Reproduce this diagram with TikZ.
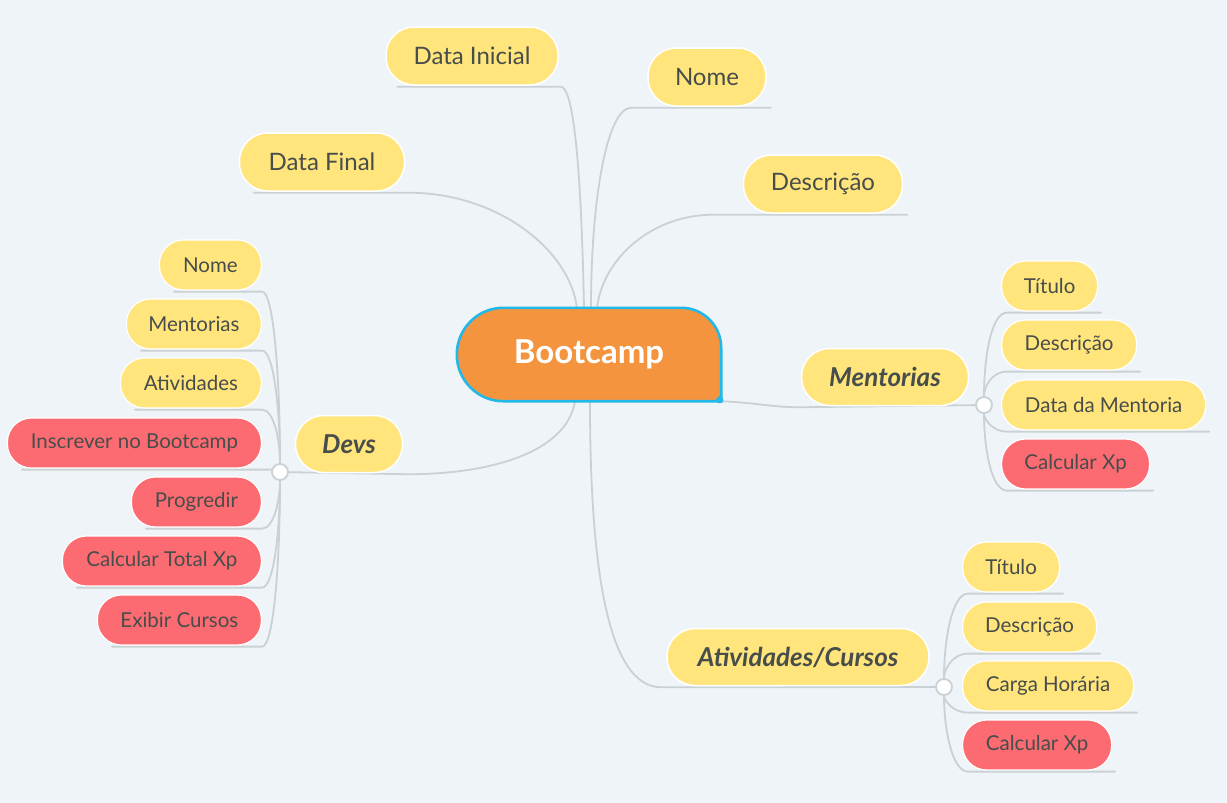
\documentclass[tikz,border=0pt]{standalone}
\usepackage{fontspec}
\setmainfont{Lato}
\usetikzlibrary{calc}
\definecolor{bgc}{HTML}{EFF4F8}
\definecolor{yel}{HTML}{FFE57C}
\definecolor{redc}{HTML}{FC6B71}
\definecolor{orc}{HTML}{F5943F}
\definecolor{cyc}{HTML}{22B8E8}
\definecolor{linec}{HTML}{C9D1D5}
\definecolor{txt}{HTML}{474D4B}
\pgfdeclarelayer{back}
\pgfdeclarelayer{bg}
\pgfsetlayers{back,bg,main}
\begin{document}
\begin{tikzpicture}[x=1pt,y=-1pt,
  pillA/.style={rectangle,rounded corners=28pt,fill=yel,draw=white,line width=1.5pt,
     minimum height=58pt,inner sep=0pt,text=txt,font=\fontsize{24}{28}\selectfont},
  pillB/.style={pillA,font=\fontsize{26}{30}\selectfont\bfseries\itshape,minimum height=57pt},
  kid/.style={rectangle,rounded corners=24pt,fill=yel,draw=white,line width=1.2pt,
     minimum height=50pt,inner sep=0pt,text=txt,font=\fontsize{20.5}{24}\selectfont},
  kidr/.style={kid,fill=redc},
  conn/.style={draw=linec,line width=1.8pt,line cap=round},
  hub/.style={circle,minimum size=16pt,inner sep=0pt,fill=white,draw=linec,line width=1.8pt}]
\useasboundingbox (0,0) rectangle (1227,803);
\begin{pgfonlayer}{back}
\fill[bgc] (0,0) rectangle (1227,803);
\end{pgfonlayer}

% central node
\node[minimum width=264pt,minimum height=93pt,inner sep=0pt] (boot) at (589,354.5) {};
\draw[fill=orc,draw=cyc,line width=2.6pt]
  (boot.south east) -- ($(boot.south west)+(46.5,0)$)
  .. controls ($(boot.south west)+(20.8,0)$) and ($(boot.west)+(0,25.7)$) .. (boot.west)
  .. controls ($(boot.west)+(0,-25.7)$) and ($(boot.north west)+(20.8,0)$) .. ($(boot.north west)+(46.5,0)$)
  -- ($(boot.north east)+(-40,0)$)
  .. controls ($(boot.north east)+(-17.9,0)$) and ($(boot.north east)+(0,17.9)$) .. ($(boot.north east)+(0,40)$)
  -- cycle;
\fill[cyc] ($(boot.south east)+(-1.5,-1.5)$) circle[radius=3.6];
\node[text=white,font=\fontsize{33}{37}\selectfont\bfseries] (bootlabel) at (boot) {Bootcamp};

% top level
\node[pillA,minimum width=172pt] (di) at (472,56) {Data Inicial};
\node[pillA,minimum width=118pt] (nm) at (707,77) {Nome};
\node[pillA,minimum width=165pt] (df) at (322,162) {Data Final};
\node[pillA,minimum width=159pt] (ds) at (823,184) {Descrição};
\node[pillB,minimum width=107pt] (devs) at (349,444) {Devs};
\node[pillB,minimum width=167pt] (men) at (885,377) {Mentorias};
\node[pillB,minimum width=262pt] (ac) at (798,657) {Atividades/Cursos};

% hubs
\node[hub] (hd) at (280,472) {};
\node[hub] (hm) at (984,405) {};
\node[hub] (ha) at (944,687) {};

% Devs children
\node[kid,minimum width=102pt,anchor=east] (dnome) at (262,265) {Nome};
\node[kid,minimum width=135pt,anchor=east] (dment) at (262,324) {Mentorias};
\node[kid,minimum width=141pt,anchor=east] (dativ) at (262,383) {Atividades};
\node[kidr,minimum width=254pt,anchor=east] (dinsc) at (262,443) {Inscrever no Bootcamp};
\node[kidr,minimum width=130pt,anchor=east] (dprog) at (262,502) {Progredir};
\node[kidr,minimum width=199pt,anchor=east] (dcalc) at (262,561) {Calcular Total Xp};
\node[kidr,minimum width=164pt,anchor=east] (dexib) at (262,620) {Exibir Cursos};

% Mentorias children
\node[kid,minimum width=96pt,anchor=west] (mtit) at (1001,286) {Título};
\node[kid,minimum width=135pt,anchor=west] (mdesc) at (1001,345) {Descrição};
\node[kid,minimum width=204pt,anchor=west] (mdata) at (1001,405) {Data da Mentoria};
\node[kidr,minimum width=148pt,anchor=west] (mcalc) at (1001,464) {Calcular Xp};

% Atividades children
\node[kid,minimum width=97pt,anchor=west] (atit) at (962,567) {Título};
\node[kid,minimum width=134pt,anchor=west] (adesc) at (962,627) {Descrição};
\node[kid,minimum width=171pt,anchor=west] (acarga) at (962,686) {Carga Horária};
\node[kidr,minimum width=149pt,anchor=west] (acalc) at (962,745) {Calcular Xp};

\begin{pgfonlayer}{bg}
% top connectors
\draw[conn] ($(di.south west)+(12,1)$) -- ($(di.south east)+(2,1)$)
  .. controls ($(di.south east)+(14,1)$) and ($(boot.north)+(-8,-150)$) .. ($(boot.north)+(-5,0)$);
\draw[conn] ($(nm.south east)+(4,1)$) -- ($(nm.south west)+(-16,1)$)
  .. controls ($(nm.south west)+(-40,1)$) and ($(boot.north)+(2,-110)$) .. ($(boot.north)+(2,0)$);
\draw[conn] ($(df.south west)+(15,1)$) -- ($(df.south east)+(4,1)$)
  .. controls ($(df.south east)+(90,1)$) and ($(boot.north)+(-20,-60)$) .. ($(boot.north)+(-12,0)$);
\draw[conn] ($(ds.south east)+(4,1)$) -- ($(ds.south west)+(-30,1)$)
  .. controls ($(ds.south west)+(-90,1)$) and ($(boot.north)+(14,-50)$) .. ($(boot.north)+(8,0)$);
% main branches
\draw[conn] ($(boot.south)+(-14,0)$) .. controls ($(boot.south)+(-22,50)$) and ($(devs.south east)+(90,1)$) .. ($(devs.south east)+(4,1)$) -- (hd);
\draw[conn] (boot.south east) .. controls ($(boot.south east)+(40,2)$) and ($(men.south west)+(-30,1)$) .. ($(men.south west)+(0,1)$) -- (hm);
\draw[conn] ($(boot.south)+(1,0)$) .. controls ($(boot.south)+(1,160)$) and ($(ac.south west)+(-60,1)$) .. ($(ac.south west)+(-5,1)$) -- (ha);
% Devs children
\foreach \c in {dnome,dment,dativ,dinsc,dprog,dcalc,dexib}{
  \coordinate (m) at ($(hd)!0.5!(\c.south east)$);
  \draw[conn] ($(\c.south west)+(15,1)$) -- ($(\c.south east)+(0,1)$)
    .. controls ($(\c.south east)+(12,1)$) and (hd |- m) .. (hd);
}
% Mentorias children
\foreach \c in {mtit,mdesc,mdata,mcalc}{
  \coordinate (m) at ($(hm)!0.5!(\c.south west)$);
  \draw[conn] (hm) .. controls (hm |- m) and ($(\c.south west)+(-10,1)$) .. ($(\c.south west)+(6,1)$)
    -- ($(\c.south east)+(3,1)$);
}
% Atividades children
\foreach \c in {atit,adesc,acarga,acalc}{
  \coordinate (m) at ($(ha)!0.5!(\c.south west)$);
  \draw[conn] (ha) .. controls (ha |- m) and ($(\c.south west)+(-10,1)$) .. ($(\c.south west)+(6,1)$)
    -- ($(\c.south east)+(3,1)$);
}
\end{pgfonlayer}
\end{tikzpicture}
\end{document}
